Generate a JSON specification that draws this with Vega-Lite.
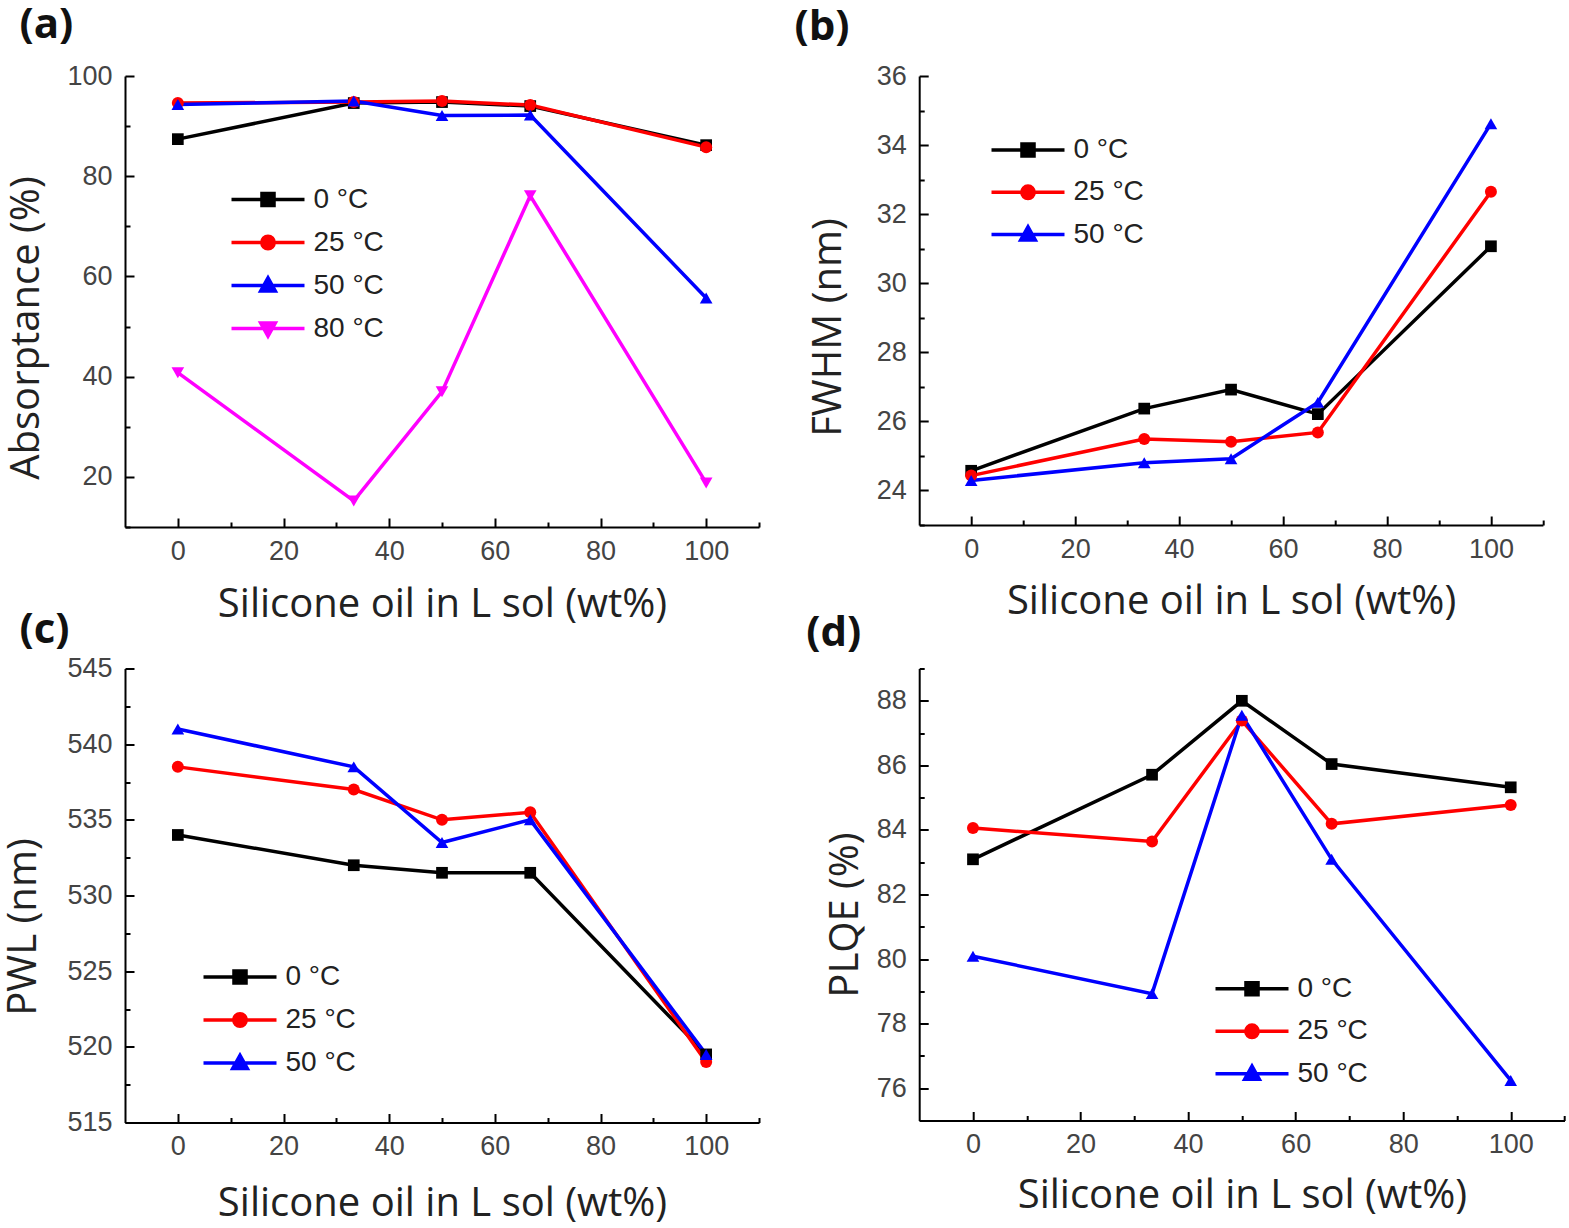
{
  "$schema": "https://vega.github.io/schema/vega-lite/v6.json",
  "background": "white",
  "padding": {"left": 3, "top": 3, "right": 0, "bottom": 0},
  "config": {
    "view": {"stroke": null},
    "axis": {
      "grid": false,
      "domainColor": "#000",
      "domainWidth": 2,
      "tickColor": "#000",
      "tickWidth": 2,
      "labelFont": "Liberation Sans",
      "labelFontSize": 27,
      "labelColor": "#444",
      "labelOverlap": false,
      "labelFlush": false,
      "labelBound": false,
      "titleFont": "Open Sans",
      "titleFontSize": 40,
      "titleFontWeight": "normal",
      "titleColor": "#222",
      "titleBaseline": "alphabetic"
    },
    "axisX": {"labelPadding": 20},
    "axisY": {"labelPadding": 22},
    "legend": {
      "orient": "none",
      "title": null,
      "padding": 0,
      "symbolSize": 5329,
      "clipHeight": 30,
      "labelOffset": 7,
      "labelFont": "Liberation Sans",
      "labelFontSize": 28,
      "labelColor": "#222"
    },
    "title": {"font": "Open Sans", "fontSize": 42, "fontWeight": "bold", "color": "#111", "anchor": "start", "frame": "group", "baseline": "alphabetic"}
  },
  "datasets": {
    "A": [
      {"x": 0, "T": "0 °C", "v": 87.4}, {"x": 33.3, "T": "0 °C", "v": 94.6}, {"x": 50, "T": "0 °C", "v": 94.8}, {"x": 66.7, "T": "0 °C", "v": 94.0}, {"x": 100, "T": "0 °C", "v": 86.2},
      {"x": 0, "T": "25 °C", "v": 94.6}, {"x": 33.3, "T": "25 °C", "v": 94.8}, {"x": 50, "T": "25 °C", "v": 95.0}, {"x": 66.7, "T": "25 °C", "v": 94.2}, {"x": 100, "T": "25 °C", "v": 85.8},
      {"x": 0, "T": "50 °C", "v": 94.3}, {"x": 33.3, "T": "50 °C", "v": 95.0}, {"x": 50, "T": "50 °C", "v": 92.1}, {"x": 66.7, "T": "50 °C", "v": 92.2}, {"x": 100, "T": "50 °C", "v": 55.7},
      {"x": 0, "T": "80 °C", "v": 40.8}, {"x": 33.3, "T": "80 °C", "v": 15.2}, {"x": 50, "T": "80 °C", "v": 37.0}, {"x": 66.7, "T": "80 °C", "v": 76.1}, {"x": 100, "T": "80 °C", "v": 18.8}
    ],
    "B": [
      {"x": 0, "T": "0 °C", "v": 24.57}, {"x": 33.3, "T": "0 °C", "v": 26.37}, {"x": 50, "T": "0 °C", "v": 26.92}, {"x": 66.7, "T": "0 °C", "v": 26.21}, {"x": 100, "T": "0 °C", "v": 31.07},
      {"x": 0, "T": "25 °C", "v": 24.43}, {"x": 33.3, "T": "25 °C", "v": 25.49}, {"x": 50, "T": "25 °C", "v": 25.41}, {"x": 66.7, "T": "25 °C", "v": 25.68}, {"x": 100, "T": "25 °C", "v": 32.65},
      {"x": 0, "T": "50 °C", "v": 24.29}, {"x": 33.3, "T": "50 °C", "v": 24.8}, {"x": 50, "T": "50 °C", "v": 24.92}, {"x": 66.7, "T": "50 °C", "v": 26.55}, {"x": 100, "T": "50 °C", "v": 34.62}
    ],
    "C": [
      {"x": 0, "T": "0 °C", "v": 534.0}, {"x": 33.3, "T": "0 °C", "v": 532.0}, {"x": 50, "T": "0 °C", "v": 531.5}, {"x": 66.7, "T": "0 °C", "v": 531.5}, {"x": 100, "T": "0 °C", "v": 519.5},
      {"x": 0, "T": "25 °C", "v": 538.5}, {"x": 33.3, "T": "25 °C", "v": 537.0}, {"x": 50, "T": "25 °C", "v": 535.0}, {"x": 66.7, "T": "25 °C", "v": 535.5}, {"x": 100, "T": "25 °C", "v": 519.0},
      {"x": 0, "T": "50 °C", "v": 541.0}, {"x": 33.3, "T": "50 °C", "v": 538.5}, {"x": 50, "T": "50 °C", "v": 533.5}, {"x": 66.7, "T": "50 °C", "v": 535.0}, {"x": 100, "T": "50 °C", "v": 519.5}
    ],
    "D": [
      {"x": 0, "T": "0 °C", "v": 83.09}, {"x": 33.3, "T": "0 °C", "v": 85.71}, {"x": 50, "T": "0 °C", "v": 88.0}, {"x": 66.7, "T": "0 °C", "v": 86.04}, {"x": 100, "T": "0 °C", "v": 85.32},
      {"x": 0, "T": "25 °C", "v": 84.06}, {"x": 33.3, "T": "25 °C", "v": 83.64}, {"x": 50, "T": "25 °C", "v": 87.39}, {"x": 66.7, "T": "25 °C", "v": 84.19}, {"x": 100, "T": "25 °C", "v": 84.77},
      {"x": 0, "T": "50 °C", "v": 80.09}, {"x": 33.3, "T": "50 °C", "v": 78.93}, {"x": 50, "T": "50 °C", "v": 87.55}, {"x": 66.7, "T": "50 °C", "v": 83.09}, {"x": 100, "T": "50 °C", "v": 76.24}
    ]
  },
  "bounds": "flush",
  "align": "each",
  "columns": 2,
  "spacing": {"row": 141.5, "column": 160.2},
  "resolve": {"scale": {"color": "independent"}, "legend": {"color": "independent"}},
  "concat": [
    {
      "width": 634, "height": 451,
      "title": {"text": "(a)", "dx": -105.5, "offset": 15.5},
      "data": {"name": "A"},
      "encoding": {
        "x": {"field": "x", "type": "quantitative", "scale": {"domain": [-10, 110], "nice": false, "zero": false},
          "axis": {"title": "Silicone oil in L sol (wt%)", "values": [0, 10, 20, 30, 40, 50, 60, 70, 80, 90, 100, 110], "labelExpr": "datum.value % 20 === 0 ? datum.label : ''", "tickSize": {"condition": {"test": "datum.value % 20 === 0", "value": -9}, "value": -5}, "titleY": 89}},
        "y": {"field": "v", "type": "quantitative", "scale": {"domain": [10, 100], "nice": false, "zero": false},
          "axis": {"title": "Absorptance (%)", "values": [10, 20, 30, 40, 50, 60, 70, 80, 90, 100], "labelExpr": "datum.value % 20 === 0 ? datum.label : ''", "tickSize": {"condition": {"test": "datum.value % 20 === 0", "value": -9}, "value": -5}, "titleX": -87, "titleY": 251.5}},
        "color": {"field": "T", "type": "nominal", "scale": {"domain": ["0 °C", "25 °C", "50 °C", "80 °C"], "range": ["#000000", "#ff0000", "#0000ff", "#ff00ff"]},
          "legend": {"legendX": 104.5, "legendY": 108.5, "rowPadding": 13,
            "encode": {"symbols": {"update": {
              "shape": {"signal": "['M-1,0H1M-0.165,-0.165H0.165V0.165H-0.165Z','M-1,0H1M-0.17,0A0.17,0.17,0,1,1,0.17,0A0.17,0.17,0,1,1,-0.17,0Z','M-1,0H1M0,-0.21L0.2,0.15H-0.2Z','M-1,0H1M0,0.21L0.2,-0.15H-0.2Z'][indexof(['0 °C','25 °C','50 °C','80 °C'], datum.value)]"},
              "strokeWidth": {"value": 3.5}, "opacity": {"value": 1}, "fillOpacity": {"value": 1}}}}}}
      },
      "layer": [
        {"mark": {"type": "line", "strokeWidth": 3.5}},
        {"transform": [{"filter": {"field": "T", "equal": "0 °C"}}], "mark": {"type": "point", "shape": "square", "filled": true, "size": 137, "opacity": 1}},
        {"transform": [{"filter": {"field": "T", "equal": "25 °C"}}], "mark": {"type": "point", "shape": "circle", "filled": true, "size": 144, "opacity": 1}},
        {"transform": [{"filter": {"field": "T", "equal": "50 °C"}}], "mark": {"type": "point", "shape": "triangle-up", "filled": true, "size": 160, "opacity": 1}},
        {"transform": [{"filter": {"field": "T", "equal": "80 °C"}}], "mark": {"type": "point", "shape": "triangle-down", "filled": true, "size": 160, "opacity": 1}}
      ]
    },
    {
      "width": 623.7, "height": 449,
      "title": {"text": "(b)", "dx": -124.7, "offset": 13},
      "data": {"name": "B"},
      "encoding": {
        "x": {"field": "x", "type": "quantitative", "scale": {"domain": [-10, 110], "nice": false, "zero": false},
          "axis": {"title": "Silicone oil in L sol (wt%)", "values": [0, 10, 20, 30, 40, 50, 60, 70, 80, 90, 100, 110], "labelExpr": "datum.value % 20 === 0 ? datum.label : ''", "tickSize": {"condition": {"test": "datum.value % 20 === 0", "value": -9}, "value": -5}, "titleY": 88}},
        "y": {"field": "v", "type": "quantitative", "scale": {"domain": [23, 36], "nice": false, "zero": false},
          "axis": {"title": "FWHM (nm)", "values": [23, 24, 25, 26, 27, 28, 29, 30, 31, 32, 33, 34, 35, 36], "labelExpr": "datum.value % 2 === 0 ? datum.label : ''", "tickSize": {"condition": {"test": "datum.value % 2 === 0", "value": -9}, "value": -5}, "titleX": -78.7, "titleY": 251}},
        "color": {"field": "T", "type": "nominal", "scale": {"domain": ["0 °C", "25 °C", "50 °C"], "range": ["#000000", "#ff0000", "#0000ff"]},
          "legend": {"legendX": 70.3, "legendY": 59, "rowPadding": 12.3,
            "encode": {"symbols": {"update": {
              "shape": {"signal": "['M-1,0H1M-0.165,-0.165H0.165V0.165H-0.165Z','M-1,0H1M-0.17,0A0.17,0.17,0,1,1,0.17,0A0.17,0.17,0,1,1,-0.17,0Z','M-1,0H1M0,-0.21L0.2,0.15H-0.2Z','M-1,0H1M0,0.21L0.2,-0.15H-0.2Z'][indexof(['0 °C','25 °C','50 °C','80 °C'], datum.value)]"},
              "strokeWidth": {"value": 3.5}, "opacity": {"value": 1}, "fillOpacity": {"value": 1}}}}}}
      },
      "layer": [
        {"mark": {"type": "line", "strokeWidth": 3.5}},
        {"transform": [{"filter": {"field": "T", "equal": "0 °C"}}], "mark": {"type": "point", "shape": "square", "filled": true, "size": 137, "opacity": 1}},
        {"transform": [{"filter": {"field": "T", "equal": "25 °C"}}], "mark": {"type": "point", "shape": "circle", "filled": true, "size": 144, "opacity": 1}},
        {"transform": [{"filter": {"field": "T", "equal": "50 °C"}}], "mark": {"type": "point", "shape": "triangle-up", "filled": true, "size": 160, "opacity": 1}}
      ]
    },
    {
      "width": 634, "height": 454,
      "title": {"text": "(c)", "dx": -105.5, "offset": 3},
      "data": {"name": "C"},
      "encoding": {
        "x": {"field": "x", "type": "quantitative", "scale": {"domain": [-10, 110], "nice": false, "zero": false},
          "axis": {"title": "Silicone oil in L sol (wt%)", "values": [0, 10, 20, 30, 40, 50, 60, 70, 80, 90, 100, 110], "labelExpr": "datum.value % 20 === 0 ? datum.label : ''", "tickSize": {"condition": {"test": "datum.value % 20 === 0", "value": -9}, "value": -5}, "titleY": 92.5}},
        "y": {"field": "v", "type": "quantitative", "scale": {"domain": [515, 545], "nice": false, "zero": false},
          "axis": {"title": "PWL (nm)", "values": [515, 517.5, 520, 522.5, 525, 527.5, 530, 532.5, 535, 537.5, 540, 542.5, 545], "labelExpr": "datum.value % 5 === 0 ? datum.label : ''", "tickSize": {"condition": {"test": "datum.value % 5 === 0", "value": -9}, "value": -5}, "titleX": -89.5, "titleY": 258}},
        "color": {"field": "T", "type": "nominal", "scale": {"domain": ["0 °C", "25 °C", "50 °C"], "range": ["#000000", "#ff0000", "#0000ff"]},
          "legend": {"legendX": 76.5, "legendY": 293.5, "rowPadding": 13,
            "encode": {"symbols": {"update": {
              "shape": {"signal": "['M-1,0H1M-0.165,-0.165H0.165V0.165H-0.165Z','M-1,0H1M-0.17,0A0.17,0.17,0,1,1,0.17,0A0.17,0.17,0,1,1,-0.17,0Z','M-1,0H1M0,-0.21L0.2,0.15H-0.2Z','M-1,0H1M0,0.21L0.2,-0.15H-0.2Z'][indexof(['0 °C','25 °C','50 °C','80 °C'], datum.value)]"},
              "strokeWidth": {"value": 3.5}, "opacity": {"value": 1}, "fillOpacity": {"value": 1}}}}}}
      },
      "layer": [
        {"mark": {"type": "line", "strokeWidth": 3.5}},
        {"transform": [{"filter": {"field": "T", "equal": "0 °C"}}], "mark": {"type": "point", "shape": "square", "filled": true, "size": 137, "opacity": 1}},
        {"transform": [{"filter": {"field": "T", "equal": "25 °C"}}], "mark": {"type": "point", "shape": "circle", "filled": true, "size": 144, "opacity": 1}},
        {"transform": [{"filter": {"field": "T", "equal": "50 °C"}}], "mark": {"type": "point", "shape": "triangle-up", "filled": true, "size": 160, "opacity": 1}}
      ]
    },
    {
      "width": 645.3, "height": 452,
      "title": {"text": "(d)", "dx": -113, "offset": 0},
      "data": {"name": "D"},
      "encoding": {
        "x": {"field": "x", "type": "quantitative", "scale": {"domain": [-10, 110], "nice": false, "zero": false},
          "axis": {"title": "Silicone oil in L sol (wt%)", "values": [0, 10, 20, 30, 40, 50, 60, 70, 80, 90, 100, 110], "labelExpr": "datum.value % 20 === 0 ? datum.label : ''", "tickSize": {"condition": {"test": "datum.value % 20 === 0", "value": -9}, "value": -5}, "titleY": 87}},
        "y": {"field": "v", "type": "quantitative", "scale": {"domain": [75, 89], "nice": false, "zero": false},
          "axis": {"title": "PLQE (%)", "values": [75, 76, 77, 78, 79, 80, 81, 82, 83, 84, 85, 86, 87, 88, 89], "labelExpr": "datum.value % 2 === 0 ? datum.label : ''", "tickSize": {"condition": {"test": "datum.value % 2 === 0", "value": -9}, "value": -5}, "titleX": -62.2, "titleY": 246}},
        "color": {"field": "T", "type": "nominal", "scale": {"domain": ["0 °C", "25 °C", "50 °C"], "range": ["#000000", "#ff0000", "#0000ff"]},
          "legend": {"legendX": 294.3, "legendY": 305.3, "rowPadding": 12.5,
            "encode": {"symbols": {"update": {
              "shape": {"signal": "['M-1,0H1M-0.165,-0.165H0.165V0.165H-0.165Z','M-1,0H1M-0.17,0A0.17,0.17,0,1,1,0.17,0A0.17,0.17,0,1,1,-0.17,0Z','M-1,0H1M0,-0.21L0.2,0.15H-0.2Z','M-1,0H1M0,0.21L0.2,-0.15H-0.2Z'][indexof(['0 °C','25 °C','50 °C','80 °C'], datum.value)]"},
              "strokeWidth": {"value": 3.5}, "opacity": {"value": 1}, "fillOpacity": {"value": 1}}}}}}
      },
      "layer": [
        {"mark": {"type": "line", "strokeWidth": 3.5}},
        {"transform": [{"filter": {"field": "T", "equal": "0 °C"}}], "mark": {"type": "point", "shape": "square", "filled": true, "size": 137, "opacity": 1}},
        {"transform": [{"filter": {"field": "T", "equal": "25 °C"}}], "mark": {"type": "point", "shape": "circle", "filled": true, "size": 144, "opacity": 1}},
        {"transform": [{"filter": {"field": "T", "equal": "50 °C"}}], "mark": {"type": "point", "shape": "triangle-up", "filled": true, "size": 160, "opacity": 1}}
      ]
    }
  ]
}
